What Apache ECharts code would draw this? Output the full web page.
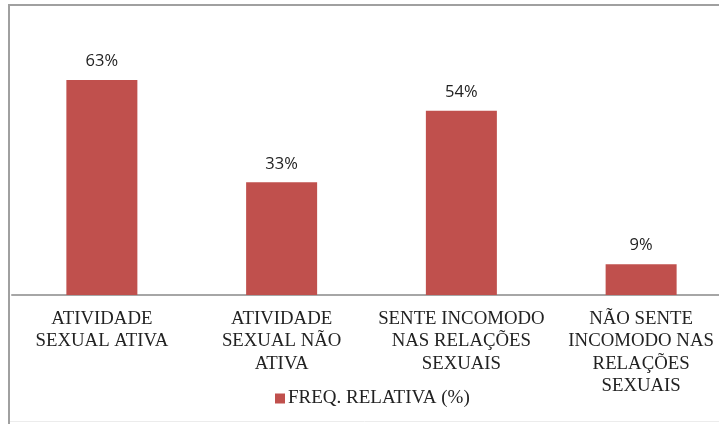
<!DOCTYPE html>
<html>
<head>
<meta charset="utf-8">
<script src="https://cdn.jsdelivr.net/npm/echarts@6/dist/echarts.min.js"></script>
<style>
  html, body { margin: 0; padding: 0; background: #fff; }
  #chart { width: 719px; height: 424px; }
</style>
</head>
<body>
<div id="chart"></div>
<script>
const categories = [
  'ATIVIDADE\nSEXUAL ATIVA',
  'ATIVIDADE\nSEXUAL NÃO\nATIVA',
  'SENTE INCOMODO\nNAS RELAÇÕES\nSEXUAIS',
  'NÃO SENTE\nINCOMODO NAS\nRELAÇÕES\nSEXUAIS',
]
const seriesName = 'FREQ. RELATIVA (%)'
const freqValues = [63, 33, 54, 9]

const chart = echarts.init(document.getElementById('chart'), null, { renderer: 'canvas' })

chart.setOption({
  animation: false,
  graphic: [
    {
      type: 'polyline',
      silent: true,
      shape: { points: [[9, 424], [9, 5], [719, 5]] },
      style: { stroke: '#a0a0a0', lineWidth: 2, fill: null },
    },
    {
      type: 'line',
      silent: true,
      shape: { x1: 10, y1: 421.5, x2: 719, y2: 421.5 },
      style: { stroke: '#ececec', lineWidth: 1 },
    },
  ],
  grid: { left: 12, top: 56, width: 719, height: 239, outerBoundsMode: 'none', containLabel: false },
  legend: {
    data: [seriesName],
    left: 275,
    top: 389,
    padding: 0,
    icon: 'rect',
    itemWidth: 10,
    itemHeight: 10,
    itemGap: 4,
    textStyle: { fontFamily: 'Liberation Serif', fontSize: 19, color: '#222', padding: [0, 0, 0, -2] },
  },
  xAxis: {
    type: 'category',
    data: categories,
    axisLine: { lineStyle: { color: '#a6a6a6', width: 2 } },
    axisTick: { show: false },
    axisLabel: {
      interval: 0,
      margin: 13,
      fontFamily: 'Liberation Serif',
      fontSize: 18.8,
      lineHeight: 22.3,
      color: '#222',
    },
  },
  yAxis: {
    type: 'value',
    min: 0,
    max: 70,
    show: false,
  },
  series: [
    {
      name: seriesName,
      type: 'bar',
      data: freqValues,
      barWidth: '39.5%',
      itemStyle: { color: '#c0504d' },
      label: {
        show: true,
        position: 'top',
        distance: 10,
        formatter: '{c}%',
        fontFamily: 'Open Sans',
        fontSize: 16.5,
        color: '#222',
      },
    },
  ],
})
</script>
</body>
</html>
